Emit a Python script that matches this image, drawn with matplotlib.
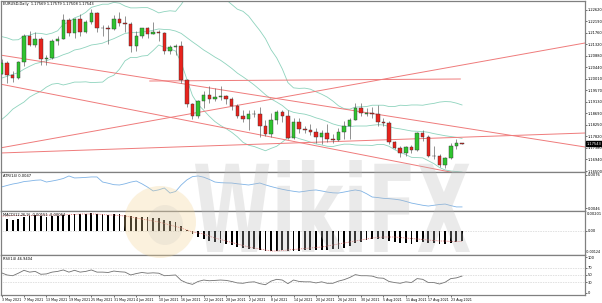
import numpy as np
import matplotlib
matplotlib.use("Agg")
import matplotlib.pyplot as plt
import matplotlib.transforms as mtransforms
from matplotlib.patches import Rectangle, PathPatch, Ellipse
from matplotlib.textpath import TextPath
from matplotlib.font_manager import FontProperties

# ---- data (EURUSD daily, 3 May - 25 Aug 2021) ----
opens = [1.2020, 1.2062, 1.2015, 1.2005, 1.2065, 1.2165, 1.2130, 1.2150, 1.2075, 1.2080,
         1.2145, 1.2150, 1.2225, 1.2173, 1.2227, 1.2180, 1.2215, 1.2250, 1.2193, 1.2195,
         1.2190, 1.2227, 1.2212, 1.2210, 1.2125, 1.2164, 1.2192, 1.2172, 1.2178, 1.2174,
         1.2108, 1.2120, 1.2125, 1.1995, 1.1905, 1.1860, 1.1915, 1.1940, 1.1925, 1.1930,
         1.1935, 1.1925, 1.1896, 1.1858, 1.1847, 1.1865, 1.1866, 1.1822, 1.1790, 1.1843,
         1.1875, 1.1860, 1.1775, 1.1836, 1.1810, 1.1805, 1.1800, 1.1780, 1.1795, 1.1770,
         1.1766, 1.1800, 1.1820, 1.1845, 1.1890, 1.1868, 1.1870, 1.1866, 1.1835, 1.1832,
         1.1760, 1.1737, 1.1720, 1.1740, 1.1728, 1.1795, 1.1778, 1.1707, 1.1708, 1.1672,
         1.1698, 1.1745, 1.17569]
highs = [1.2076, 1.2070, 1.2030, 1.2070, 1.2172, 1.2181, 1.2180, 1.2160, 1.2090, 1.2150,
         1.2162, 1.2245, 1.2230, 1.2230, 1.2245, 1.2225, 1.2266, 1.2255, 1.2205, 1.2205,
         1.2244, 1.2254, 1.2240, 1.2215, 1.2183, 1.2195, 1.2196, 1.2218, 1.2185, 1.2180,
         1.2130, 1.2132, 1.2145, 1.2000, 1.1910, 1.1920, 1.1955, 1.1975, 1.1965, 1.1975,
         1.1938, 1.1930, 1.1905, 1.1880, 1.1880, 1.1883, 1.1895, 1.1845, 1.1869, 1.1880,
         1.1880, 1.1880, 1.1850, 1.1850, 1.1822, 1.1829, 1.1815, 1.1804, 1.1830, 1.1790,
         1.1815, 1.1840, 1.1850, 1.1908, 1.1909, 1.1890, 1.1895, 1.1900, 1.1850, 1.1840,
         1.1765, 1.1745, 1.1745, 1.1750, 1.1800, 1.1805, 1.1785, 1.1745, 1.1715, 1.1705,
         1.1755, 1.1770, 1.17579]
lows = [1.2017, 1.1986, 1.1990, 1.1999, 1.2050, 1.2125, 1.2120, 1.2053, 1.2052, 1.2075,
        1.2128, 1.2150, 1.2162, 1.2155, 1.2165, 1.2175, 1.2210, 1.2180, 1.2165, 1.2133,
        1.2185, 1.2200, 1.2180, 1.2103, 1.2105, 1.2155, 1.2155, 1.2170, 1.2143, 1.2095,
        1.2095, 1.2092, 1.1985, 1.1892, 1.1847, 1.1850, 1.1890, 1.1910, 1.1915, 1.1920,
        1.1905, 1.1880, 1.1850, 1.1835, 1.1807, 1.1855, 1.1781, 1.1782, 1.1780, 1.1830,
        1.1835, 1.1772, 1.1772, 1.1795, 1.1795, 1.1785, 1.1755, 1.1752, 1.1760, 1.1755,
        1.1765, 1.1770, 1.1770, 1.1843, 1.1860, 1.1860, 1.1850, 1.1820, 1.1820, 1.1752,
        1.1735, 1.1705, 1.1706, 1.1720, 1.1725, 1.1765, 1.1705, 1.1695, 1.1665, 1.1663,
        1.1695, 1.1735, 1.17508]
closes = [1.2062, 1.2015, 1.2005, 1.2065, 1.2165, 1.2130, 1.2150, 1.2075, 1.2080, 1.2145,
          1.2150, 1.2225, 1.2173, 1.2227, 1.2180, 1.2215, 1.2250, 1.2193, 1.2195, 1.2190,
          1.2227, 1.2212, 1.2210, 1.2125, 1.2164, 1.2192, 1.2172, 1.2178, 1.2174, 1.2108,
          1.2120, 1.2125, 1.1995, 1.1905, 1.1860, 1.1915, 1.1940, 1.1925, 1.1930, 1.1935,
          1.1925, 1.1896, 1.1858, 1.1847, 1.1865, 1.1866, 1.1822, 1.1790, 1.1843, 1.1875,
          1.1860, 1.1775, 1.1836, 1.1810, 1.1805, 1.1800, 1.1780, 1.1795, 1.1770, 1.1766,
          1.1800, 1.1820, 1.1845, 1.1890, 1.1870, 1.1870, 1.1866, 1.1835, 1.1832, 1.1760,
          1.1737, 1.1720, 1.1740, 1.1728, 1.1795, 1.1778, 1.1707, 1.1708, 1.1672, 1.1698,
          1.1745, 1.1757, 1.17543]

bb_upper = [1.2161, 1.2156, 1.2148, 1.2149, 1.2163, 1.2166, 1.2174, 1.2173, 1.2169, 1.2174,
            1.2183, 1.2208, 1.2216, 1.2232, 1.2240, 1.2253, 1.2272, 1.2278, 1.2284, 1.2284,
            1.2291, 1.2288, 1.2277, 1.2270, 1.2270, 1.2271, 1.2271, 1.2262, 1.2251, 1.2256,
            1.2259, 1.2257, 1.2283, 1.2315, 1.2344, 1.2348, 1.2339, 1.2336, 1.2328, 1.2319,
            1.2301, 1.2283, 1.2265, 1.2257, 1.2239, 1.2211, 1.2184, 1.2153, 1.2111, 1.2080,
            1.2038, 1.1986, 1.1966, 1.1964, 1.1965, 1.1961, 1.1951, 1.1942, 1.1931, 1.1916,
            1.1898, 1.1887, 1.1885, 1.1893, 1.1894, 1.1895, 1.1900, 1.1900, 1.1900, 1.1895,
            1.1895, 1.1900, 1.1899, 1.1901, 1.1901, 1.1900, 1.1904, 1.1907, 1.1912, 1.1914,
            1.1913, 1.1908, 1.1901]
bb_mid = [1.2003, 1.2010, 1.2017, 1.2024, 1.2037, 1.2048, 1.2058, 1.2063, 1.2069, 1.2077,
          1.2083, 1.2092, 1.2099, 1.2110, 1.2114, 1.2121, 1.2129, 1.2132, 1.2136, 1.2145,
          1.2153, 1.2163, 1.2173, 1.2176, 1.2176, 1.2179, 1.2180, 1.2185, 1.2190, 1.2188,
          1.2187, 1.2182, 1.2173, 1.2157, 1.2141, 1.2126, 1.2110, 1.2097, 1.2083, 1.2071,
          1.2056, 1.2040, 1.2022, 1.2008, 1.1993, 1.1977, 1.1959, 1.1940, 1.1924, 1.1912,
          1.1899, 1.1881, 1.1873, 1.1869, 1.1866, 1.1860, 1.1852, 1.1846, 1.1838, 1.1829,
          1.1823, 1.1819, 1.1819, 1.1821, 1.1821, 1.1821, 1.1824, 1.1826, 1.1825, 1.1819,
          1.1813, 1.1810, 1.1806, 1.1802, 1.1801, 1.1800, 1.1797, 1.1792, 1.1788, 1.1784,
          1.1781, 1.1778, 1.1774]
bb_lower = [1.1845, 1.1863, 1.1885, 1.1899, 1.1912, 1.1931, 1.1943, 1.1953, 1.1969, 1.1980,
            1.1983, 1.1977, 1.1982, 1.1988, 1.1988, 1.1989, 1.1986, 1.1987, 1.1988, 1.2005,
            1.2014, 1.2037, 1.2069, 1.2082, 1.2081, 1.2087, 1.2089, 1.2108, 1.2129, 1.2120,
            1.2114, 1.2106, 1.2062, 1.1999, 1.1937, 1.1903, 1.1881, 1.1858, 1.1838, 1.1823,
            1.1811, 1.1797, 1.1780, 1.1759, 1.1748, 1.1743, 1.1735, 1.1727, 1.1736, 1.1744,
            1.1760, 1.1777, 1.1781, 1.1773, 1.1767, 1.1760, 1.1753, 1.1749, 1.1744, 1.1743,
            1.1748, 1.1752, 1.1752, 1.1749, 1.1748, 1.1748, 1.1747, 1.1751, 1.1751, 1.1744,
            1.1731, 1.1721, 1.1712, 1.1702, 1.1701, 1.1700, 1.1689, 1.1678, 1.1663, 1.1654,
            1.1650, 1.1648, 1.1646]

# trend lines: (start bar, start price, end bar, end price)
trend_lines = [
    (-0.3, 1.17374, 103.9, 1.21366),
    (-0.3, 1.17184, 103.9, 1.17944),
    (-0.3, 1.20910, 103.9, 1.17413),
    (-0.3, 1.19807, 80.8, 1.16424),
    (26.4, 1.19921, 81.7, 1.19997),
]

atr = [0.00651, 0.00665, 0.00678, 0.00687, 0.00700, 0.00705, 0.00712, 0.00715, 0.00696, 0.00705,
       0.00715, 0.00728, 0.00751, 0.00733, 0.00735, 0.00738, 0.00742, 0.00742, 0.00696, 0.00685,
       0.00672, 0.00669, 0.00680, 0.00695, 0.00705, 0.00680, 0.00650, 0.00615, 0.00625, 0.00642,
       0.00596, 0.00610, 0.00669, 0.00715, 0.00745, 0.00751, 0.00740, 0.00720, 0.00696, 0.00690,
       0.00688, 0.00687, 0.00680, 0.00675, 0.00669, 0.00678, 0.00687, 0.00670, 0.00655, 0.00642,
       0.00630, 0.00620, 0.00612, 0.00605, 0.00612, 0.00620, 0.00624, 0.00615, 0.00605, 0.00598,
       0.00596, 0.00605, 0.00615, 0.00624, 0.00615, 0.00590, 0.00560, 0.00555, 0.00548, 0.00545,
       0.00540, 0.00533, 0.00520, 0.00505, 0.00495, 0.00485, 0.00478, 0.00485, 0.00492, 0.00496,
       0.00482, 0.00470, 0.00470]

macd_main = [0.0012, 0.0012, 0.0011, 0.0012, 0.0014, 0.0015, 0.0016, 0.0015, 0.0014, 0.0015,
             0.0015, 0.0016, 0.0016, 0.0017, 0.0017, 0.0017, 0.0018, 0.00175, 0.0017, 0.00165,
             0.0017, 0.0017, 0.00165, 0.0015, 0.00145, 0.00145, 0.0014, 0.00135, 0.0013, 0.00115,
             0.0010, 0.0009, 0.0005, 0.0001, -0.0003, -0.0006, -0.0008, -0.0010, -0.0011, -0.0012,
             -0.0013, -0.0014, -0.0016, -0.0017, -0.00175, -0.0018, -0.0019, -0.0020, -0.0020, -0.00195,
             -0.0019, -0.0020, -0.0020, -0.00195, -0.0019, -0.0019, -0.0019, -0.00185, -0.00185, -0.0018,
             -0.00175, -0.00165, -0.0015, -0.0012, -0.00105, -0.0009, -0.0008, -0.0008, -0.0008, -0.00095,
             -0.0011, -0.0012, -0.0012, -0.00125, -0.0011, -0.00105, -0.00115, -0.0012, -0.0013, -0.0013,
             -0.0012, -0.0011, -0.0010]
macd_signal = [0.0015, 0.0015, 0.00155, 0.00155, 0.00155, 0.00155, 0.00155, 0.0016, 0.0016, 0.0016,
               0.0016, 0.0016, 0.00165, 0.00165, 0.0017, 0.0017, 0.0017, 0.0017, 0.00165, 0.0016,
               0.0016, 0.00155, 0.0015, 0.0014, 0.0013, 0.0012, 0.0011, 0.0010, 0.0009, 0.00075,
               0.0006, 0.00045, 0.0003, 0.0001, -0.0001, -0.0002, -0.0003, -0.0005, -0.0007, -0.00085,
               -0.0010, -0.00115, -0.0013, -0.00145, -0.0016, -0.0017, -0.0018, -0.0019, -0.0020, -0.0020,
               -0.00195, -0.0019, -0.00185, -0.0018, -0.00175, -0.0017, -0.00165, -0.0016, -0.0015, -0.0014,
               -0.0013, -0.0012, -0.0011, -0.0010, -0.0009, -0.0008, -0.0007, -0.00065, -0.0006, -0.0006,
               -0.0006, -0.00065, -0.0007, -0.00075, -0.0008, -0.00085, -0.0009, -0.00095, -0.0010, -0.0010,
               -0.00105, -0.00105, -0.00105]

rsi = [56, 50, 48, 55, 63, 58, 60, 52, 53, 58,
       60, 64, 58, 63, 58, 60, 64, 58, 58, 57,
       61, 59, 58, 50, 54, 57, 55, 56, 55, 48,
       49, 50, 35, 28, 24, 32, 36, 34, 35, 36,
       35, 32, 28, 27, 30, 31, 26, 23, 33, 38,
       36, 26, 36, 32, 31, 31, 28, 31, 27, 27,
       33, 37, 43, 51, 48, 48, 47, 42, 41, 32,
       29, 27, 31, 29, 40, 38, 29, 29, 25, 30,
       40, 42, 47]

date_labels = ["3 May 2021", "7 May 2021", "13 May 2021", "19 May 2021", "25 May 2021",
               "31 May 2021", "4 Jun 2021", "10 Jun 2021", "16 Jun 2021", "22 Jun 2021",
               "28 Jun 2021", "2 Jul 2021", "8 Jul 2021", "14 Jul 2021", "20 Jul 2021",
               "26 Jul 2021", "30 Jul 2021", "5 Aug 2021", "11 Aug 2021", "17 Aug 2021",
               "23 Aug 2021"]
price_labels = ["1.22620", "1.22190", "1.21760", "1.21320", "1.20880", "1.20440", "1.20010",
                "1.19570", "1.19130", "1.18690", "1.18250", "1.17820", "1.17380", "1.16940",
                "1.16500"]
rsi_levels = [70, 50, 30]

title_text = "EURUSD,Daily  1.17569 1.17579 1.17508 1.17543"
last_price = "1.17543"

# ---- layout (pixel based, 602 x 303) ----
W, H = 602, 303
FS = 2.6
FS_DATE = 2.3
FAM = ["Liberation Sans Narrow", "DejaVu Sans"]
plt.rcParams["font.family"] = FAM
fig = plt.figure(figsize=(W / 100, H / 100), dpi=100)
fig.patch.set_facecolor("white")


def panel(top, bottom, left=1, right=585):
    return [left / W, 1 - bottom / H, (right - left) / W, (bottom - top) / H]


ax = fig.add_axes(panel(1, 172))
ax_atr = fig.add_axes(panel(172, 211), sharex=ax)
ax_macd = fig.add_axes(panel(211, 255), sharex=ax)
ax_rsi = fig.add_axes(panel(255, 295), sharex=ax)

x = np.arange(len(closes))
for a in (ax, ax_atr, ax_macd, ax_rsi):
    a.set_xlim(-0.09, 103.9)
    for s in a.spines.values():
        s.set_color("#808080")
        s.set_linewidth(0.9)
    a.yaxis.tick_right()
    a.tick_params(axis="y", labelsize=FS, length=1.2, width=0.4, pad=0.6, colors="black")
    a.tick_params(axis="x", bottom=False, labelbottom=False)

# main chart
ax.set_ylim(1.16462, 1.22962)
ax.set_yticks([float(p) for p in price_labels])
ax.set_yticklabels(price_labels)

bb_col = "#8ed3bd"
ax.plot(x, bb_upper, color=bb_col, lw=0.6, zorder=2)
ax.plot(x, bb_mid, color=bb_col, lw=0.6, zorder=2)
ax.plot(x, bb_lower, color=bb_col, lw=0.6, zorder=2)

for x0, p0, x1, p1 in trend_lines:
    ax.plot([x0, x1], [p0, p1], color="#ef7b7b", lw=0.7, zorder=2)

body_w = 0.62
for i in x:
    o, hi, lo, c = opens[i], highs[i], lows[i], closes[i]
    ax.vlines(i, lo, hi, color="#555555", lw=0.45, zorder=3)
    fc = "#2fc42f" if c >= o else "#e8231d"
    ax.add_patch(Rectangle((i - body_w / 2, min(o, c)), body_w, max(abs(c - o), 0.00003),
                           facecolor=fc, edgecolor="#333333", lw=0.3, zorder=4))

ax.text(0.004, 0.992, title_text, transform=ax.transAxes, fontsize=FS, va="top", ha="left")
ax.text(1.0025, float(last_price), last_price,
        transform=mtransforms.blended_transform_factory(ax.transAxes, ax.transData),
        fontsize=FS, color="white", va="center", ha="left",
        bbox=dict(boxstyle="square,pad=0.15", facecolor="black", edgecolor="black"))

# ATR
ax_atr.set_ylim(0.00433, 0.00787)
ax_atr.plot(x, atr, color="#7fb3e6", lw=0.6)
ax_atr.set_yticks([0.0076, 0.0046])
ax_atr.set_yticklabels(["0.0076", "0.0046"])
ax_atr.text(0.004, 0.96, "ATR(14) 0.0047", transform=ax_atr.transAxes, fontsize=FS, va="top")

# MACD
ax_macd.set_ylim(-0.0024, 0.0020)
ax_macd.bar(x, macd_main, width=0.32, color="black", zorder=2)
ax_macd.plot(x, macd_signal, color="#e06060", lw=0.6, ls=(0, (1, 1.2)), zorder=3)
ax_macd.axhline(0, color="#a0a0a0", lw=0.4, ls=(0, (1, 2)), zorder=1)
ax_macd.set_yticks([0.0])
ax_macd.set_yticklabels(["0.00"])
ax_macd.text(1.0025, 0.93, "0.00201", transform=ax_macd.transAxes, fontsize=FS, va="center")
ax_macd.text(1.0012, 0.07, "-0.00124", transform=ax_macd.transAxes, fontsize=2.4, va="center")
ax_macd.text(0.004, 0.96, "MACD(12,26,9) -0.00151 -0.00064", transform=ax_macd.transAxes,
             fontsize=FS, va="top")

# RSI
ax_rsi.set_ylim(-5.56, 105.56)
ax_rsi.plot(x, rsi, color="#707070", lw=0.6)
for lv in rsi_levels:
    ax_rsi.axhline(lv, color="#a0a0a0", lw=0.4, ls=(0, (1, 2)))
ax_rsi.set_yticks([100] + rsi_levels + [0])
ax_rsi.text(0.004, 0.96, "RSI(14) 46.9404", transform=ax_rsi.transAxes, fontsize=FS, va="top")

tick_bars = x[::4][:len(date_labels)]
ax_rsi.set_xticks(tick_bars)
ax_rsi.set_xticklabels(date_labels)
ax_rsi.tick_params(axis="x", bottom=True, labelbottom=True, labelsize=FS_DATE, length=1.2,
                   width=0.4, pad=0.8)
for lbl in ax_rsi.get_xticklabels():
    lbl.set_ha("left")

# watermark (logo + WikiFX lettering)
fig.add_artist(Ellipse((160 / W, 1 - 222 / H), 72 / W, 72 / H, transform=fig.transFigure,
                       facecolor="#f3d391", edgecolor="none", alpha=0.3, zorder=5))
fig.add_artist(Ellipse((165 / W, 1 - 225 / H), 36 / W, 40 / H, transform=fig.transFigure,
                       facecolor="#b0b0b0", edgecolor="none", alpha=0.15, zorder=5))
tp = TextPath((0, 0), "WikiFX", size=1, prop=FontProperties(family="DejaVu Sans", weight="bold"))
ext = tp.get_extents()
bx0, bx1, by_top, by_bot = 195, 470, 160, 252
tr = (mtransforms.Affine2D().translate(-ext.x0, -ext.y0)
      .scale((bx1 - bx0) / ext.width, (by_bot - by_top) / ext.height)
      .translate(bx0, H - by_bot).scale(1 / W, 1 / H) + fig.transFigure)
fig.add_artist(PathPatch(tp, transform=tr, facecolor="#bcbcbc", edgecolor="none", alpha=0.3, zorder=5))

fig.savefig("out.png", dpi=100, facecolor="white")
